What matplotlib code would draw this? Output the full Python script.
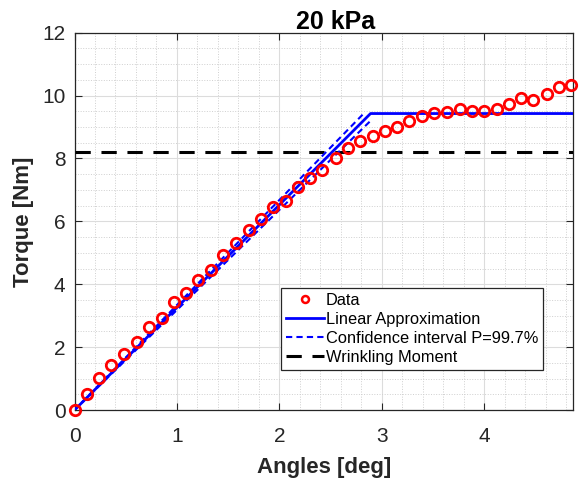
import matplotlib
matplotlib.use('Agg')
import matplotlib.pyplot as plt
from matplotlib.ticker import MultipleLocator

plt.rcParams['font.family'] = ['Liberation Sans', 'DejaVu Sans']

# measured data (angle in deg, torque in Nm)
angles = [0.00, 0.12, 0.24, 0.36, 0.48, 0.61, 0.73, 0.85, 0.97, 1.09,
          1.21, 1.33, 1.45, 1.58, 1.70, 1.82, 1.94, 2.06, 2.18, 2.30,
          2.42, 2.55, 2.67, 2.79, 2.91, 3.03, 3.15, 3.27, 3.39, 3.51,
          3.64, 3.76, 3.88, 4.00, 4.12, 4.24, 4.36, 4.48, 4.61, 4.73, 4.85]
torque = [0.00, 0.51, 1.01, 1.43, 1.78, 2.17, 2.63, 2.94, 3.42, 3.72,
          4.13, 4.44, 4.92, 5.31, 5.71, 6.09, 6.45, 6.64, 7.09, 7.39,
          7.64, 8.01, 8.34, 8.57, 8.73, 8.89, 8.99, 9.18, 9.34, 9.45,
          9.47, 9.56, 9.50, 9.50, 9.58, 9.74, 9.93, 9.86, 10.05, 10.26, 10.35]

# linear approximation (bilinear)
lin_x = [0, 2.89, 4.87]
lin_y = [0, 9.43, 9.43]

# confidence interval P=99.7%
ci_up_x = [0, 2.82]
ci_up_y = [0, 9.42]
ci_lo_x = [0, 2.90]
ci_lo_y = [0, 9.23]

wrinkling = 8.2

fig = plt.figure(figsize=(5.8, 4.8), dpi=100)
ax = fig.add_axes([0.1285, 0.1458, 0.860, 0.786])

ax.plot(angles, torque, 'o', color='red', mfc='none', ms=7.5, mew=2,
        label='Data', clip_on=False, zorder=5)
ax.plot(lin_x, lin_y, '-', color='#0000ff', lw=2, label='Linear Approximation', zorder=4)
ax.plot(ci_up_x, ci_up_y, '--', color='#0000ff', lw=1.5, dashes=(3, 2),
        label='Confidence interval P=99.7%', zorder=4)
ax.plot(ci_lo_x, ci_lo_y, '--', color='#0000ff', lw=1.5, dashes=(3, 2), zorder=4)
ax.axhline(wrinkling, color='black', lw=2.2, dashes=(5, 3.5), label='Wrinkling Moment', zorder=3)

ax.set_xlim(0, 4.87)
ax.set_ylim(0, 12)
ax.xaxis.set_major_locator(MultipleLocator(1))
ax.xaxis.set_minor_locator(MultipleLocator(0.2))
ax.yaxis.set_major_locator(MultipleLocator(2))
ax.yaxis.set_minor_locator(MultipleLocator(0.5))

ax.grid(which='major', color='#dcdcdc', lw=0.8, ls='-')
ax.grid(which='minor', color='#cfcfcf', lw=0.7, ls=':')
ax.set_axisbelow(True)
ax.tick_params(which='major', direction='in', top=True, right=True, length=5,
               width=0.8, color='#262626', labelsize=15, labelcolor='#262626')
ax.tick_params(axis='x', which='major', pad=12)
ax.tick_params(axis='y', which='major', pad=6.5)
ax.tick_params(which='minor', length=0)
for s in ax.spines.values():
    s.set_color('#262626')
    s.set_linewidth(0.9)

ax.set_title('20 kPa', fontsize=18, fontweight='bold', pad=3, x=0.524)
ax.set_xlabel('Angles [deg]', fontsize=16, fontweight='bold', color='#262626', labelpad=8)
ax.set_ylabel('Torque [Nm]', fontsize=16, fontweight='bold', color='#262626', labelpad=6)

leg = ax.legend(loc='lower left', bbox_to_anchor=(0.414, 0.106), fontsize=11.8,
                numpoints=1, handlelength=2.3, handletextpad=0.15, borderpad=0.3,
                labelspacing=0.25, borderaxespad=0, fancybox=False, framealpha=1,
                edgecolor='#262626')
leg.get_frame().set_linewidth(0.9)
leg.legend_handles[0].set_markersize(5)
leg.legend_handles[0].set_markeredgewidth(1.8)

fig.savefig('out.png', dpi=100)
